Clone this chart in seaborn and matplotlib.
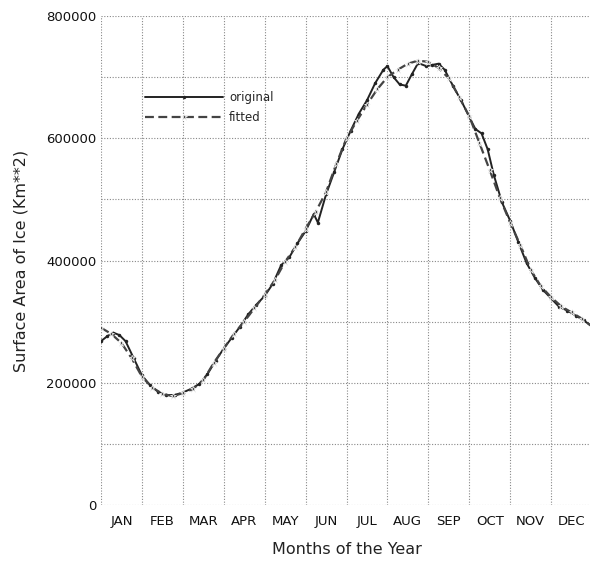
import numpy as np
import pandas as pd
import matplotlib
matplotlib.use("Agg")
import matplotlib.pyplot as plt
import seaborn as sns

months = ["JAN", "FEB", "MAR", "APR", "MAY", "JUN", "JUL", "AUG", "SEP", "OCT", "NOV", "DEC"]
y_ticks = [0, 200000, 400000, 600000, 800000]

orig_t = [0.00, 0.15, 0.30, 0.45, 0.60, 0.80, 1.00, 1.20, 1.40, 1.60, 1.80, 2.00, 2.20, 2.40,
          2.60, 2.80, 3.00, 3.20, 3.40, 3.60, 3.80, 4.00, 4.20, 4.40, 4.60, 4.80, 5.00, 5.20,
          5.30, 5.50, 5.70, 5.90, 6.10, 6.30, 6.50, 6.70, 6.90, 7.00, 7.15, 7.30, 7.45, 7.60,
          7.75, 7.95, 8.10, 8.25, 8.40, 8.60, 8.80, 9.00, 9.15, 9.30, 9.45, 9.60, 9.80, 10.00,
          10.20, 10.40, 10.60, 10.80, 11.00, 11.20, 11.40, 11.60, 11.80, 12.00]
orig_v = [268000, 276000, 282000, 278000, 268000, 240000, 212000, 196000, 185000, 180000,
          180000, 184000, 190000, 198000, 214000, 236000, 256000, 274000, 292000, 312000,
          328000, 342000, 362000, 392000, 405000, 428000, 448000, 476000, 462000, 508000,
          545000, 582000, 612000, 640000, 662000, 690000, 712000, 718000, 700000, 688000,
          686000, 705000, 723000, 718000, 720000, 722000, 712000, 686000, 662000, 635000,
          615000, 608000, 582000, 540000, 495000, 465000, 430000, 396000, 372000, 352000,
          338000, 324000, 318000, 310000, 302000, 292000]

fit_t = [0.00, 0.25, 0.50, 0.75, 1.00, 1.25, 1.50, 1.75, 2.00, 2.25, 2.50, 2.75, 3.00, 3.25,
         3.50, 3.75, 4.00, 4.25, 4.50, 4.75, 5.00, 5.25, 5.50, 5.75, 6.00, 6.25, 6.50, 6.75,
         7.00, 7.25, 7.50, 7.75, 8.00, 8.25, 8.50, 8.75, 9.00, 9.25, 9.50, 9.75, 10.00, 10.25,
         10.50, 10.75, 11.00, 11.25, 11.50, 11.75, 12.00]
fit_v = [290000, 280000, 265000, 240000, 210000, 192000, 182000, 178000, 183000, 190000,
         204000, 232000, 256000, 280000, 300000, 322000, 344000, 368000, 398000, 422000,
         452000, 480000, 512000, 558000, 600000, 628000, 655000, 680000, 700000, 712000,
         722000, 727000, 725000, 715000, 698000, 668000, 636000, 592000, 548000, 502000,
         462000, 425000, 385000, 358000, 340000, 325000, 315000, 305000, 292000]

sns.set_style("white")
plt.rcParams["font.family"] = ["DejaVu Sans"]

W, H = 590, 563
fig = plt.figure(figsize=(W / 100, H / 100), dpi=100)
ax = fig.add_axes([101 / W, (H - 505) / H, 491 / W, 489 / H])

df_o = pd.DataFrame({"t": orig_t, "v": orig_v})
df_f = pd.DataFrame({"t": fit_t, "v": fit_v})

sns.lineplot(data=df_o, x="t", y="v", ax=ax, sort=False, color="#222222", lw=1.4,
             marker=".", markersize=5, markeredgewidth=0, label="original")
sns.lineplot(data=df_f, x="t", y="v", ax=ax, sort=False, color="#444444", lw=1.6,
             linestyle=(0, (4, 2)), marker="*", markersize=4.5, markeredgewidth=0.5,
             label="fitted")

ax.set_xlim(0, 12)
ax.set_ylim(0, 800000)
ax.set_xticks(np.arange(0, 13, 1))
ax.set_xticklabels([])
ax.set_xticks(np.arange(0.5, 12, 1), minor=True)
ax.set_xticklabels(months, minor=True, fontsize=9.5, color="#111111")
ax.set_yticks(np.arange(0, 800001, 100000))
ax.set_yticklabels([str(v) if v in y_ticks else "" for v in range(0, 800001, 100000)],
                   fontsize=9.5, color="#111111")
ax.tick_params(axis="both", which="both", length=0)
ax.tick_params(axis="x", which="minor", pad=7)
ax.tick_params(axis="y", pad=3)

ax.grid(True, which="major", linestyle=(0, (1, 1.5)), color="#888888", lw=0.8)
for s in ax.spines.values():
    s.set_visible(False)

ax.set_xlabel("Months of the Year", fontsize=11.5, color="#222222", labelpad=10)
ax.set_ylabel("Surface Area of Ice (Km**2)", fontsize=11.5, color="#222222", labelpad=13)

leg = ax.legend(loc="upper left", bbox_to_anchor=(0.078, 0.858), frameon=False,
                fontsize=8.5, handlelength=6.6, numpoints=1, labelspacing=0.55,
                handletextpad=0.5, borderpad=0)

fig.savefig("out.png", dpi=100)
